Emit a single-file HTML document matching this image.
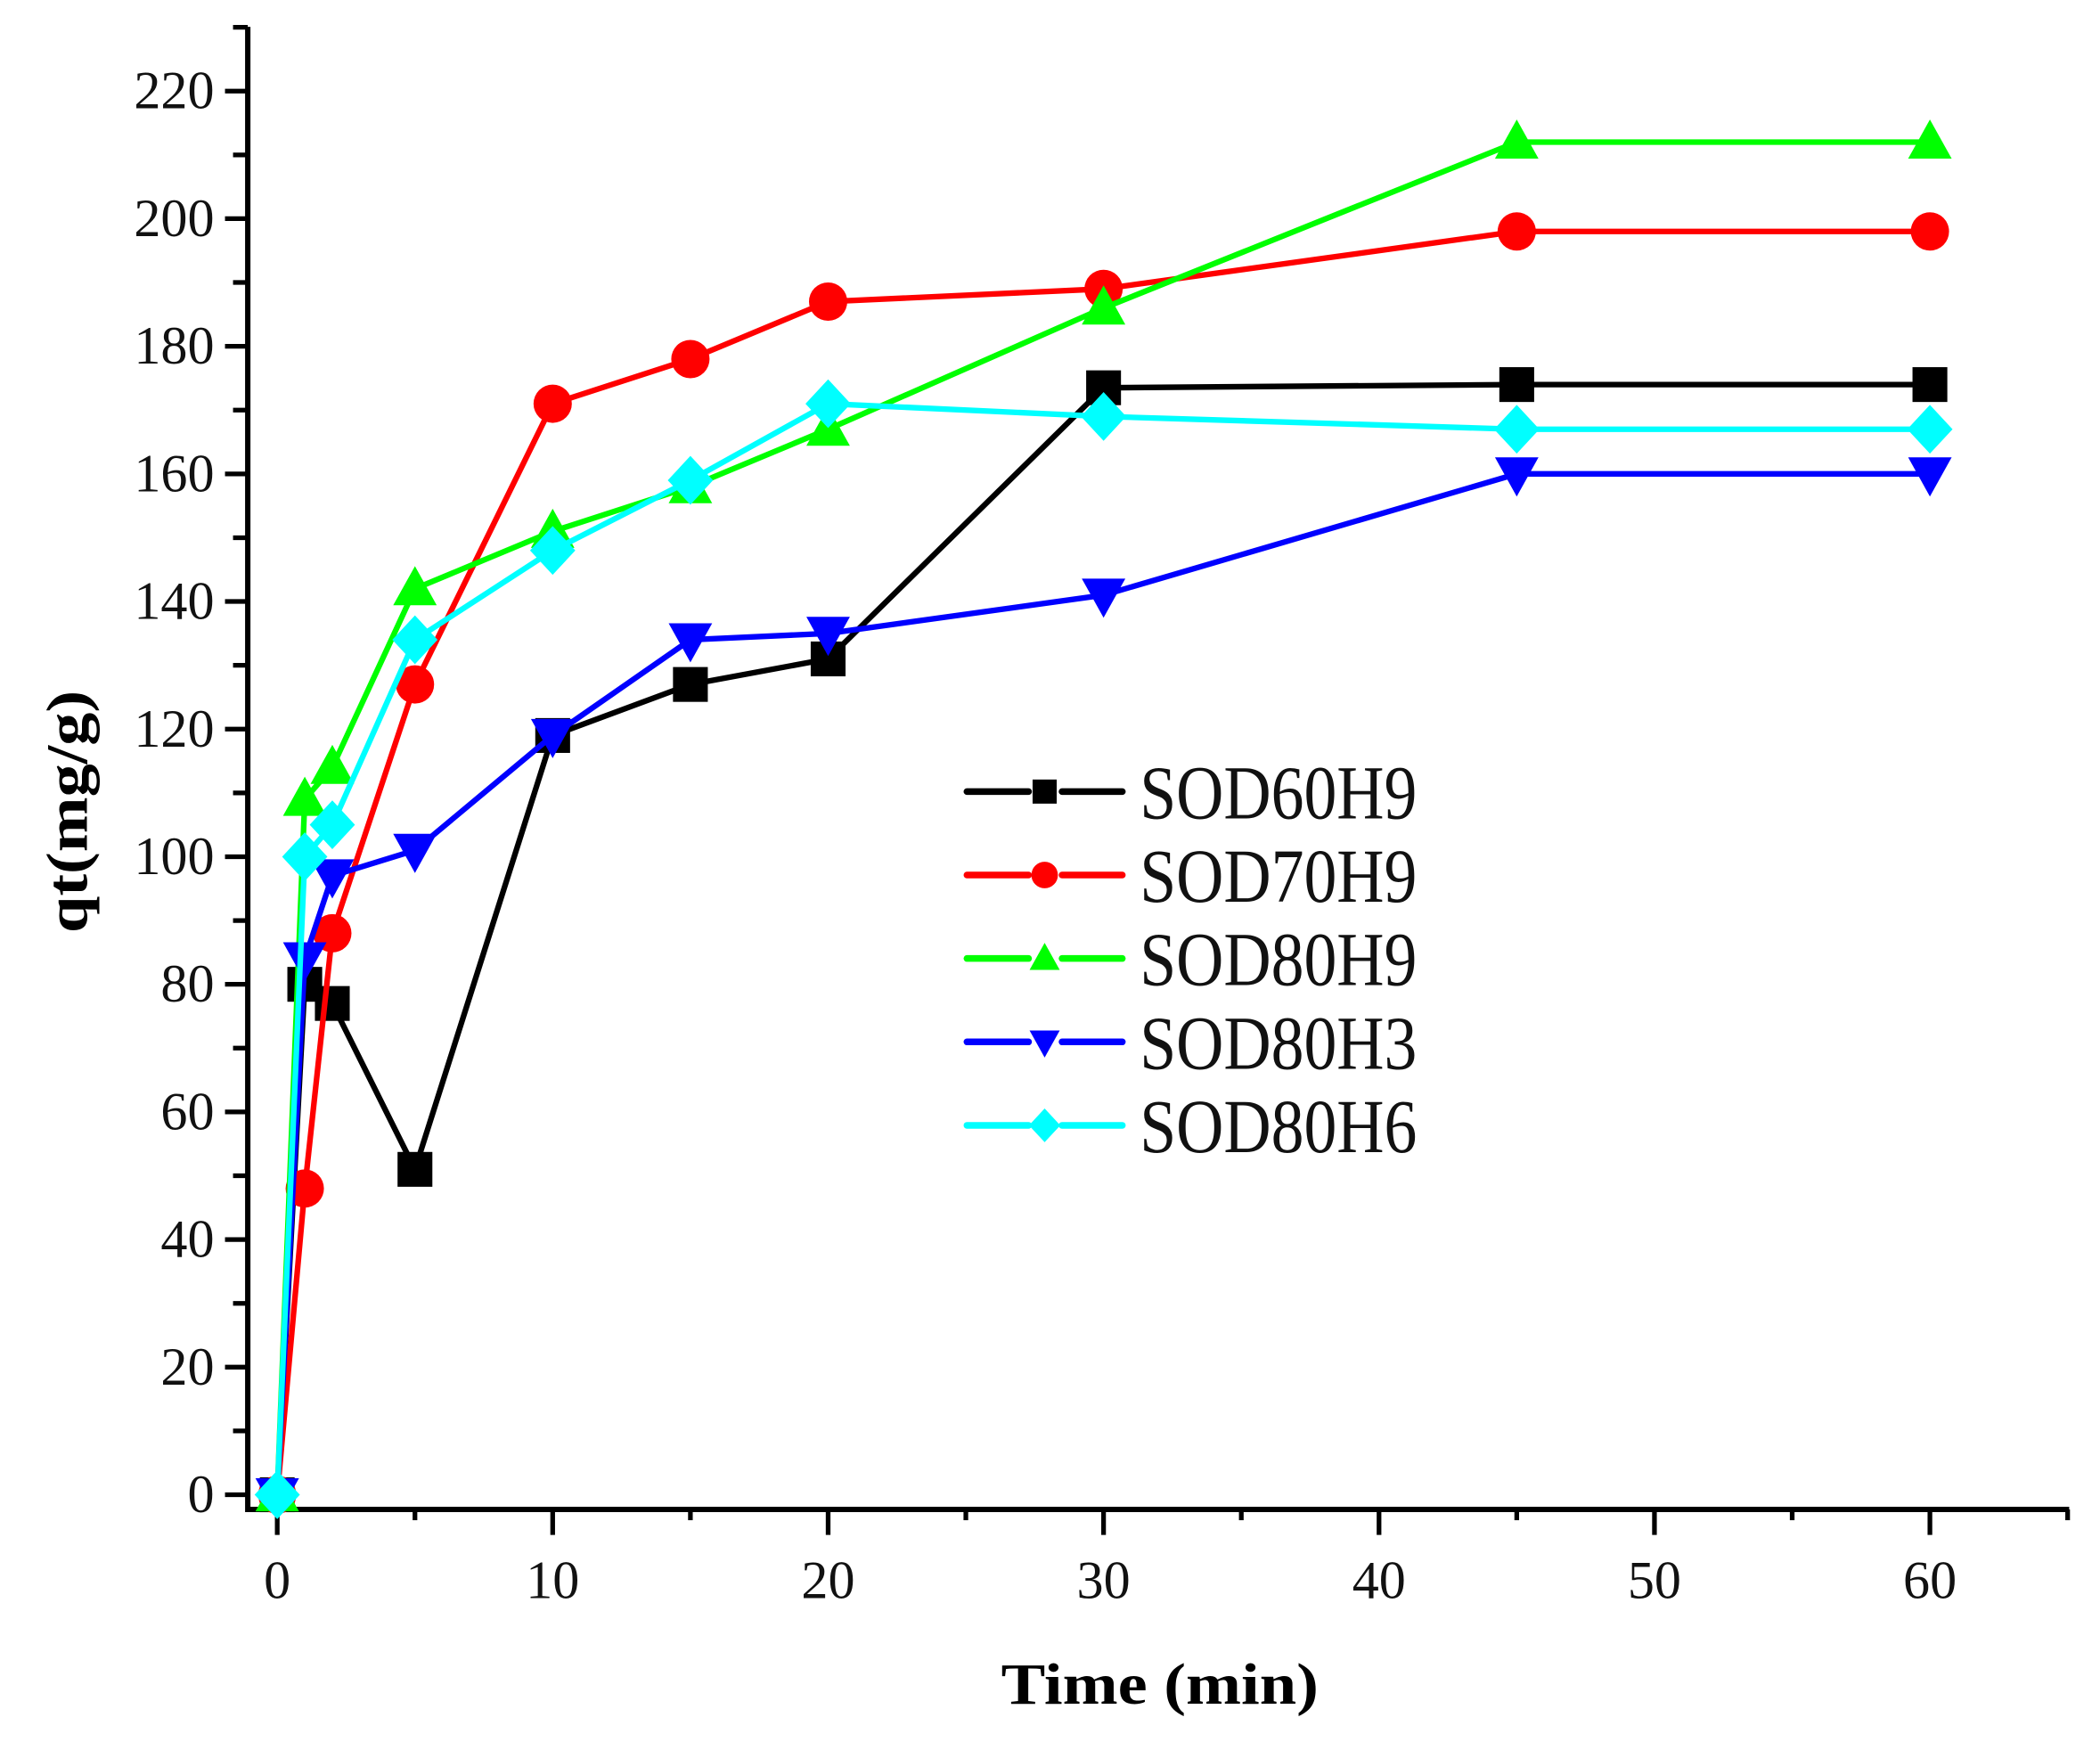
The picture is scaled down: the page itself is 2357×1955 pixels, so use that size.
<!DOCTYPE html>
<html><head><meta charset="utf-8"><style>html,body{margin:0;padding:0;background:#fff}svg{display:block}</style></head>
<body>
<svg width="2357" height="1955" viewBox="0 0 1568 1300.6" preserveAspectRatio="none" xmlns="http://www.w3.org/2000/svg" font-family="'Liberation Serif', serif">
<g id="axes"></g>
<g id="series"></g>
<g id="legend"></g>
</svg>
<script>
const times = [0,1,2,5,10,15,20,30,45,60];
const sod60h9 = [0,80,77,51,119,127,131,173.5,174,174];
const sod70h9 = [0,48,88,127,171,178,187,189,198,198];
const sod80h9 = [0,109,114,142,151,158,167,186,212,212];
const sod80h3 = [0,84,97,101,119,134,135,141,160,160];
const sod80h6 = [0,100,105,134,148,159,171,169,167,167];
const seriesNames = ["SOD60H9","SOD70H9","SOD80H9","SOD80H3","SOD80H6"];
const xTicks = [0,10,20,30,40,50,60];
const yTicks = [0,20,40,60,80,100,120,140,160,180,200,220];

const NS="http://www.w3.org/2000/svg";
const L=185,T=20,B=1127,R=1545;
function xs(v){return 207+v*(1441-207)/60;}
function ys(v){return 1116-v*(1116-68)/220;}
function mk(tag,attrs,parent){const e=document.createElementNS(NS,tag);for(const k in attrs)e.setAttribute(k,attrs[k]);parent.appendChild(e);return e;}
const axes=document.getElementById('axes');
let e;
e=mk('path',{d:`M${L},${T} V${B} H${R}`,fill:'none',stroke:'#000','stroke-width':4},axes);


for(let v=0;v<=230;v+=10){const maj=v%20===0;
 e=mk('line',{x1:maj?168:174,x2:L,y1:ys(v),y2:ys(v),stroke:'#000','stroke-width':3.5},axes);
 
 }
yTicks.forEach(v=>{e=mk('text',{x:160,y:ys(v)+13,'text-anchor':'end','font-size':40,fill:'#111'},axes);e.textContent=v;
 
 });
for(let v=0;v<=65;v+=5){const maj=v%10===0;
 e=mk('line',{x1:xs(v),x2:xs(v),y1:B,y2:maj?1146:1135,stroke:'#000','stroke-width':3.5},axes);
 
 }
xTicks.forEach(v=>{e=mk('text',{x:xs(v),y:1193,'text-anchor':'middle','font-size':40,fill:'#111'},axes);e.textContent=v;
 
 });
e=mk('text',{x:866,y:1272,'text-anchor':'middle','font-size':44,'font-weight':'bold',textLength:237,lengthAdjust:'spacingAndGlyphs'},axes);e.textContent='Time (min)';


e=mk('text',{x:0,y:0,'text-anchor':'middle','font-size':44,'font-weight':'bold',textLength:181,lengthAdjust:'spacingAndGlyphs',transform:'translate(65,606) rotate(-90)'},axes);e.textContent='qt(mg/g)';



const colors=['#000000','#ff0000','#00ff00','#0000ff','#00ffff'];
const data=[sod60h9,sod70h9,sod80h9,sod80h3,sod80h6];
const shapes=['square','circle','up','down','diamond'];
function marker(shape,cx,cy,s,col,parent){
 if(shape==='square')return mk('rect',{x:cx-s,y:cy-s,width:2*s,height:2*s,fill:col},parent);
 if(shape==='circle')return mk('circle',{cx:cx,cy:cy,r:s*1.1,fill:col},parent);
 if(shape==='up')return mk('polygon',{points:`${cx},${cy-s*1.3} ${cx-s*1.25},${cy+s*0.95} ${cx+s*1.25},${cy+s*0.95}`,fill:col},parent);
 if(shape==='down')return mk('polygon',{points:`${cx},${cy+s*1.3} ${cx-s*1.25},${cy-s*0.95} ${cx+s*1.25},${cy-s*0.95}`,fill:col},parent);
 return mk('polygon',{points:`${cx},${cy-s*1.4} ${cx+s*1.3},${cy} ${cx},${cy+s*1.4} ${cx-s*1.3},${cy}`,fill:col},parent);
}
const sg=document.getElementById('series');
data.forEach((arr,i)=>{
 const g=mk('g',{},sg);
 
 
 const pl=mk('polyline',{points:arr.map((v,j)=>xs(times[j])+','+ys(v)).join(' '),fill:'none',stroke:colors[i],'stroke-width':4.2},g);
 
 
 arr.forEach((v,j)=>{const m=marker(shapes[i],xs(times[j]),ys(v),13,colors[i],g);
  
  });
});
const lg=document.getElementById('legend');
seriesNames.forEach((n,i)=>{
 const y=591+i*62.3;
 const g=mk('g',{},lg);
 
 
 mk('line',{x1:722,x2:768,y1:y,y2:y,stroke:colors[i],'stroke-width':5,'stroke-linecap':'round'},g);
 mk('line',{x1:793,x2:838,y1:y,y2:y,stroke:colors[i],'stroke-width':5,'stroke-linecap':'round'},g);
 marker(shapes[i],780,y,9,colors[i],g);
 const t=mk('text',{x:851,y:y+20,'font-size':57,textLength:207,lengthAdjust:'spacingAndGlyphs',fill:'#111'},g);t.textContent=n;
});
</script>
</body></html>
